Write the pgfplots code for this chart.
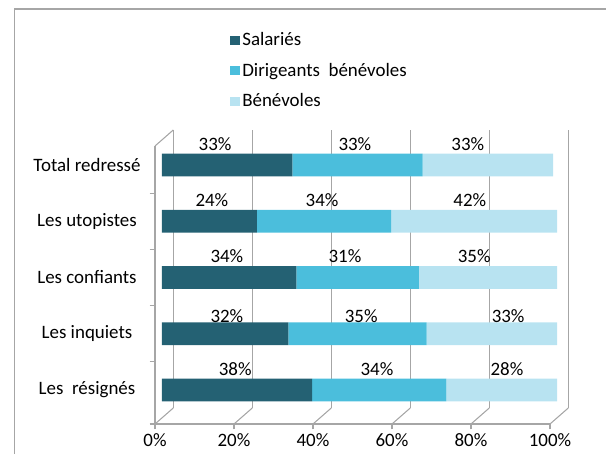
\documentclass[border=0pt]{standalone}
\usepackage{pgfplots}
\pgfplotsset{compat=1.18}
\usepackage{fontspec}
\setmainfont{Carlito}
\definecolor{salM}{HTML}{246173}
\definecolor{dirM}{HTML}{4BBEDC}
\definecolor{benM}{HTML}{B8E3F1}
\definecolor{gridc}{HTML}{A6A6A6}
\newcommand\ft{\fontsize{14.2}{16.5}\selectfont}
\begin{document}
\begin{tikzpicture}
\useasboundingbox (0,0) rectangle (454.5pt,340.5pt);
\draw[gridc, line width=1.1pt] (10.9pt,0) -- (10.9pt,333.75pt) -- (454.5pt,333.75pt);
\pgfplotsset{
  common/.style={
    at={(116.25pt,22.5pt)}, anchor=south west,
    scale only axis, width=296.25pt, height=208.5pt,
    xmin=0, xmax=100, ymin=-0.604, ymax=4.338, clip=false,
  }
}
\begin{axis}[
  common,
  xbar stacked, bar width=17pt,
  axis x line*=bottom, axis y line*=left,
  axis line style={gridc, line width=0.8pt},
  tick align=outside, major tick length=4pt,
  tick style={gridc, line width=0.8pt},
  xtick={0,20,40,60,80,100},
  xticklabels={0\%,20\%,40\%,60\%,80\%,100\%},
  ytick={-0.604,0.5,1.5,2.5,3.5}, yticklabels={},
  extra y ticks={0,1,2,3,4},
  extra y tick labels={Les\ \ résignés, Les inquiets, Les confiants, Les utopistes, Total redressé},
  extra y tick style={major tick length=0pt, yticklabel style={anchor=center, xshift=-51pt}},
  xmajorgrids,
  major grid style={gridc, line width=0.8pt, xshift=13.7pt, yshift=12pt},
  tick label style={font=\ft, text=black},
  legend style={at={(0.19,1.418)}, anchor=north west, draw=none, fill=none,
    font=\ft, row sep=7.5pt, inner sep=0pt},
  legend cell align=left,
  legend image code/.code={\fill[#1] (0pt,-3.5pt) rectangle (7pt,3.5pt);},
]
\addplot[draw=none, xshift=5.25pt, fill=salM]
  coordinates {(38,0) (32,1) (34,2) (24,3) (33,4)};
\addlegendentry{Salariés}
\addplot[draw=none, xshift=5.25pt, fill=dirM]
  coordinates {(34,0) (35,1) (31,2) (34,3) (33,4)};
\addlegendentry{Dirigeants\ \ bénévoles}
\addplot[draw=none, xshift=5.25pt, fill=benM]
  coordinates {(28,0) (33,1) (35,2) (42,3) (33,4)};
\addlegendentry{Bénévoles}
\pgfplotsinvokeforeach{0,20,40,60,80,100}{
  \draw[gridc, line width=0.8pt] (axis cs:#1,-0.604) -- ++(13.7pt,12pt);
}
\draw[gridc, line width=0.8pt] (axis cs:0,4.338) -- ++(13.7pt,12pt);
\end{axis}
\begin{axis}[common, hide axis]
\addplot[only marks, mark=none,
  point meta=explicit symbolic, nodes near coords,
  nodes near coords align={anchor=center},
  nodes near coords style={anchor=center, font=\ft, text=black, inner sep=0pt}]
  coordinates {
  (15.2,4.373) [33\%] (50.6,4.373) [33\%] (79.2,4.373) [33\%]
  (14.4,3.373) [24\%] (42.3,3.373) [34\%] (79.7,3.373) [42\%]
  (18.2,2.373) [34\%] (48.1,2.373) [31\%] (80.8,2.373) [35\%]
  (18.2,1.32) [32\%] (52.2,1.32) [35\%] (89.4,1.32) [33\%]
  (20.3,0.373) [38\%] (56.2,0.373) [34\%] (89.1,0.373) [28\%]
  };
\end{axis}
\end{tikzpicture}
\end{document}
